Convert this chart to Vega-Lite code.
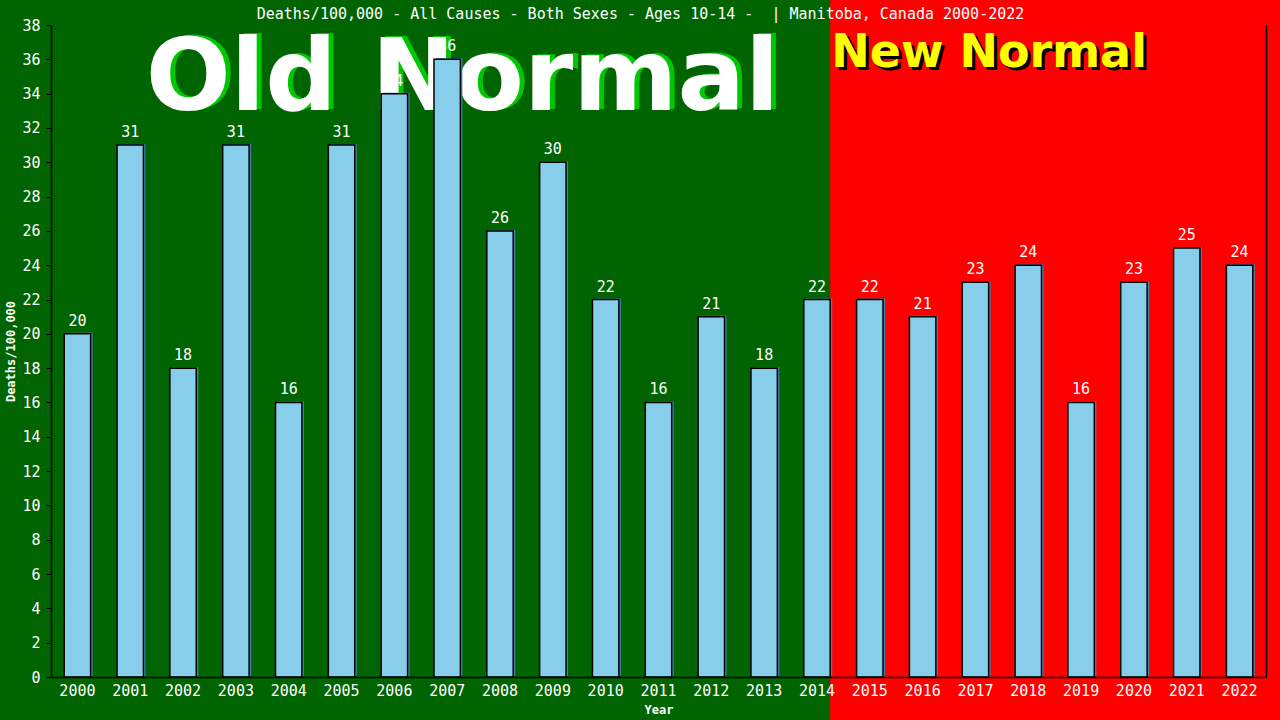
{
  "$schema": "https://vega.github.io/schema/vega-lite/v6.json",
  "autosize": {"type": "none"},
  "width": 1215,
  "height": 652,
  "padding": {"left": 51, "top": 25, "right": 14, "bottom": 43},
  "background": "#006400",
  "config": {"view": {"stroke": null}},
  "title": {
    "text": "Deaths/100,000 - All Causes - Both Sexes - Ages 10-14 - \u00a0| Manitoba, Canada 2000-2022",
    "color": "white",
    "font": "DejaVu Sans Mono",
    "fontSize": 15,
    "fontWeight": "normal",
    "anchor": "middle",
    "dx": -18,
    "offset": -35,
    "baseline": "alphabetic",
    "zindex": 1
  },
  "datasets": {
    "deaths": [
      {"year": "2000", "deaths": 20},
      {"year": "2001", "deaths": 31},
      {"year": "2002", "deaths": 18},
      {"year": "2003", "deaths": 31},
      {"year": "2004", "deaths": 16},
      {"year": "2005", "deaths": 31},
      {"year": "2006", "deaths": 34},
      {"year": "2007", "deaths": 36},
      {"year": "2008", "deaths": 26},
      {"year": "2009", "deaths": 30},
      {"year": "2010", "deaths": 22},
      {"year": "2011", "deaths": 16},
      {"year": "2012", "deaths": 21},
      {"year": "2013", "deaths": 18},
      {"year": "2014", "deaths": 22},
      {"year": "2015", "deaths": 22},
      {"year": "2016", "deaths": 21},
      {"year": "2017", "deaths": 23},
      {"year": "2018", "deaths": 24},
      {"year": "2019", "deaths": 16},
      {"year": "2020", "deaths": 23},
      {"year": "2021", "deaths": 25},
      {"year": "2022", "deaths": 24}
    ],
    "single": [{}]
  },
  "resolve": {"axis": {"x": "independent", "y": "independent"}},
  "layer": [
    {
      "data": {"name": "single"},
      "mark": {"type": "rect", "color": "#ff0000"},
      "encoding": {
        "x": {"datum": "2014", "type": "nominal", "bandPosition": 1, "axis": null},
        "x2": {"datum": "2022", "bandPosition": 2.5},
        "y": {"datum": 39.5, "type": "quantitative", "scale": {"domain": [0, 38], "nice": false}, "axis": null},
        "y2": {"datum": -4}
      }
    },
    {
      "data": {"name": "single"},
      "mark": {"type": "text", "text": "Old Normal", "font": "DejaVu Sans", "fontWeight": "bold", "fontSize": 100, "color": "#00c800", "align": "center", "baseline": "alphabetic", "dx": 5, "dy": -1},
      "encoding": {
        "x": {"datum": "2007", "type": "nominal", "bandPosition": 1.08, "axis": null},
        "y": {"datum": 33.05, "type": "quantitative", "scale": {"domain": [0, 38], "nice": false}, "axis": null}
      }
    },
    {
      "data": {"name": "single"},
      "mark": {"type": "text", "text": "Old Normal", "font": "DejaVu Sans", "fontWeight": "bold", "fontSize": 100, "color": "#ffffff", "align": "center", "baseline": "alphabetic"},
      "encoding": {
        "x": {"datum": "2007", "type": "nominal", "bandPosition": 1.08, "axis": null},
        "y": {"datum": 33.05, "type": "quantitative", "scale": {"domain": [0, 38], "nice": false}, "axis": null}
      }
    },
    {
      "data": {"name": "single"},
      "mark": {"type": "text", "text": "New Normal", "font": "DejaVu Sans", "fontWeight": "bold", "fontSize": 46, "color": "#000000", "align": "left", "baseline": "alphabetic", "dx": 4, "dy": 3},
      "encoding": {
        "x": {"datum": "2014", "type": "nominal", "bandPosition": 1, "axis": null},
        "y": {"datum": 35.55, "type": "quantitative", "scale": {"domain": [0, 38], "nice": false}, "axis": null}
      }
    },
    {
      "data": {"name": "single"},
      "mark": {"type": "text", "text": "New Normal", "font": "DejaVu Sans", "fontWeight": "bold", "fontSize": 46, "color": "#ffff00", "align": "left", "baseline": "alphabetic", "dx": 1},
      "encoding": {
        "x": {"datum": "2014", "type": "nominal", "bandPosition": 1, "axis": null},
        "y": {"datum": 35.55, "type": "quantitative", "scale": {"domain": [0, 38], "nice": false}, "axis": null}
      }
    },
    {
      "data": {"name": "deaths"},
      "mark": {"type": "bar", "fill": "#4682b4", "xOffset": 2, "yOffset": -1},
      "encoding": {
        "x": {"field": "year", "type": "nominal", "axis": null},
        "y": {"field": "deaths", "type": "quantitative", "scale": {"domain": [0, 38], "nice": false}, "axis": null}
      }
    },
    {
      "data": {"name": "deaths"},
      "mark": {"type": "bar", "fill": "#87ceeb", "stroke": "#000000", "strokeWidth": 1.5},
      "encoding": {
        "x": {
          "field": "year",
          "type": "nominal",
          "sort": "ascending",
          "scale": {"paddingInner": 0.5, "paddingOuter": 0.25},
          "axis": {
            "title": "Year",
            "titleColor": "white",
            "titleFont": "DejaVu Sans Mono",
            "titleFontSize": 12,
            "titleFontWeight": "bold",
            "titlePadding": 6,
            "labelAngle": 0,
            "labelColor": "white",
            "labelFont": "DejaVu Sans Mono",
            "labelFontSize": 15,
            "labelPadding": 6,
            "ticks": false,
            "tickSize": 0,
            "domainColor": "#000000",
            "domainWidth": 1.5,
            "grid": false,
            "zindex": 1
          }
        },
        "y": {
          "field": "deaths",
          "type": "quantitative",
          "scale": {"domain": [0, 38], "nice": false},
          "axis": {
            "orient": "left",
            "values": [0, 2, 4, 6, 8, 10, 12, 14, 16, 18, 20, 22, 24, 26, 28, 30, 32, 34, 36, 38],
            "title": "Deaths/100,000",
            "titleColor": "white",
            "titleFont": "DejaVu Sans Mono",
            "titleFontSize": 12,
            "titleFontWeight": "bold",
            "titlePadding": 4,
            "labelColor": "white",
            "labelFont": "DejaVu Sans Mono",
            "labelFontSize": 15,
            "labelPadding": 6,
            "tickColor": "#000000",
            "tickSize": 5,
            "domainColor": "#000000",
            "domainWidth": 1.5,
            "grid": false,
            "zindex": 1
          }
        }
      }
    },
    {
      "data": {"name": "deaths"},
      "mark": {"type": "text", "color": "white", "font": "DejaVu Sans Mono", "fontSize": 15, "baseline": "alphabetic", "dy": -8},
      "encoding": {
        "x": {"field": "year", "type": "nominal", "axis": null},
        "y": {
          "field": "deaths",
          "type": "quantitative",
          "scale": {"domain": [0, 38], "nice": false},
          "axis": {"orient": "right", "labels": false, "ticks": false, "title": null, "grid": false, "domainColor": "#000000", "domainWidth": 1.5, "zindex": 1}
        },
        "text": {"field": "deaths", "type": "quantitative"}
      }
    }
  ]
}
